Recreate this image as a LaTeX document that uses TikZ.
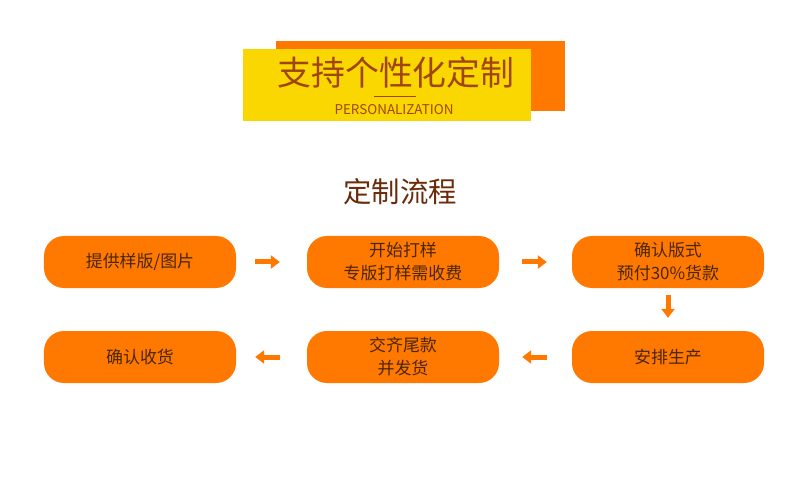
\documentclass[tikz,border=0pt]{standalone}
\usepackage{fontspec}
\setmainfont{Noto Sans CJK SC}
\usetikzlibrary{arrows.meta,positioning}
\definecolor{Flame}{HTML}{FF7800}
\definecolor{Lemon}{HTML}{FAD700}
\definecolor{Rust}{HTML}{A04510}
\definecolor{Umber}{HTML}{6B2A08}
\definecolor{Ink}{HTML}{4A2608}
\tikzset{
  stepbox/.style={fill=Flame,rounded corners=20bp,minimum width=192bp,
    minimum height=52bp,inner sep=0bp,align=center,text=Ink,
    font=\fontsize{17}{23}\selectfont},
  flowarrow/.style={draw=Flame,line width=5bp,-{Triangle[length=9bp,width=13bp]}}
}

\begin{document}
\begin{tikzpicture}[x=1bp,y=-1bp]
  \path[use as bounding box] (0,0) rectangle (790,477);
  \fill[white] (0,0) rectangle (790,477);

  % title banner
  \fill[Flame] (276,41) rectangle (565,111);
  \fill[Lemon] (243,49) rectangle (531,121);
  \node[text=Rust,font=\fontsize{34}{34}\selectfont,inner sep=0bp] (title)
    at (396,73) {支持个性化定制};
  \draw[Rust,line width=0.8bp] (374,96) -- (416,96);
  \node[text=Rust,font=\fontsize{13.5}{14}\selectfont,inner sep=0bp] (sub)
    at (394,110) {PERSONALIZATION};
  \node[text=Umber,font=\fontsize{28.5}{28.5}\selectfont,inner sep=0bp] (head)
    at (400,192) {定制流程};

  % flow boxes
  \node[stepbox] (sample) at (140,262) {提供样版/图片};
  \node[stepbox] (proof) at (403,262) {开始打样\\专版打样需收费};
  \node[stepbox] (confirm) at (668,262) {确认版式\\预付30\%货款};
  \node[stepbox] (produce) at (668,357) {安排生产};
  \node[stepbox] (pay) at (403,357) {交齐尾款\\并发货};
  \node[stepbox] (receive) at (140,357) {确认收货};

  % connectors
  \draw[flowarrow,shorten <=19bp,shorten >=27bp] (sample) -- (proof);
  \draw[flowarrow,shorten <=23bp,shorten >=25bp] (proof) -- (confirm);
  \draw[flowarrow,shorten <=7bp,shorten >=13bp] (confirm) -- (produce);
  \draw[flowarrow,shorten <=25bp,shorten >=23bp] (produce) -- (pay);
  \draw[flowarrow,shorten <=27bp,shorten >=19bp] (pay) -- (receive);
\end{tikzpicture}
\end{document}
